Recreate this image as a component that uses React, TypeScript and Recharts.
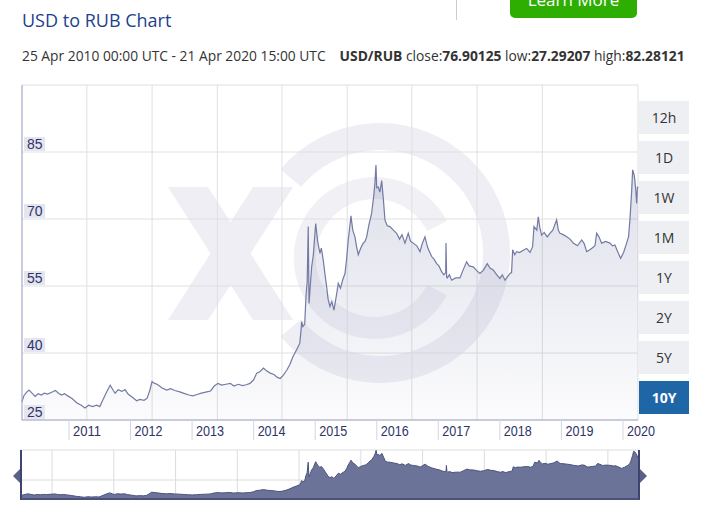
import React from "react";
import { AreaChart, Area, XAxis, YAxis, CartesianGrid } from "recharts";

// decimal years, 25 Apr 2010 .. 21 Apr 2020
const dates = [
  2010.237, 2010.27, 2010.31, 2010.35, 2010.4, 2010.45, 2010.5, 2010.55, 2010.6, 2010.65,
  2010.72, 2010.78, 2010.83, 2010.88, 2010.93, 2010.98, 2011.05, 2011.13, 2011.2, 2011.26,
  2011.32, 2011.38, 2011.45, 2011.5, 2011.55, 2011.62, 2011.67, 2011.72, 2011.75, 2011.8,
  2011.86, 2011.91, 2011.96, 2012.04, 2012.1, 2012.15, 2012.22, 2012.27, 2012.31, 2012.35,
  2012.39, 2012.43, 2012.47, 2012.52, 2012.59, 2012.65, 2012.72, 2012.8, 2012.88, 2012.95,
  2013.01, 2013.08, 2013.15, 2013.24, 2013.3, 2013.36, 2013.42, 2013.48, 2013.55, 2013.62,
  2013.68, 2013.75, 2013.82, 2013.88, 2013.94, 2014.0, 2014.05, 2014.1, 2014.16, 2014.21,
  2014.27, 2014.33, 2014.38, 2014.43, 2014.48, 2014.54, 2014.59, 2014.64, 2014.7, 2014.75,
  2014.77, 2014.78, 2014.8, 2014.83, 2014.85, 2014.87, 2014.887, 2014.9, 2014.92, 2014.943,
  2014.97, 2015.008, 2015.04, 2015.077, 2015.1, 2015.131, 2015.16, 2015.186, 2015.21, 2015.24,
  2015.27, 2015.305, 2015.34, 2015.375, 2015.41, 2015.45, 2015.484, 2015.51, 2015.537, 2015.56,
  2015.581, 2015.61, 2015.646, 2015.67, 2015.7, 2015.74, 2015.781, 2015.81, 2015.836, 2015.87,
  2015.917, 2015.95, 2015.97, 2015.987, 2016.0, 2016.024, 2016.05, 2016.08, 2016.11, 2016.133,
  2016.17, 2016.214, 2016.27, 2016.323, 2016.37, 2016.41, 2016.458, 2016.512, 2016.55, 2016.593,
  2016.65, 2016.702, 2016.74, 2016.783, 2016.83, 2016.892, 2016.93, 2016.973, 2017.01, 2017.054,
  2017.09, 2017.12, 2017.125, 2017.135, 2017.145, 2017.18, 2017.217, 2017.28, 2017.352, 2017.4,
  2017.46, 2017.5, 2017.568, 2017.62, 2017.676, 2017.73, 2017.795, 2017.84, 2017.892, 2017.95,
  2018.001, 2018.04, 2018.083, 2018.12, 2018.164, 2018.19, 2018.208, 2018.24, 2018.273, 2018.32,
  2018.38, 2018.435, 2018.49, 2018.532, 2018.554, 2018.6, 2018.624, 2018.65, 2018.679, 2018.72,
  2018.77, 2018.813, 2018.86, 2018.922, 2018.95, 2018.976, 2019.03, 2019.085, 2019.14, 2019.192,
  2019.26, 2019.329, 2019.37, 2019.41, 2019.45, 2019.5, 2019.545, 2019.572, 2019.61, 2019.653,
  2019.72, 2019.788, 2019.83, 2019.869, 2019.92, 2019.962, 2020.01, 2020.059, 2020.09, 2020.113,
  2020.14, 2020.157, 2020.18, 2020.194, 2020.21, 2020.222, 2020.235, 2020.244,
];

const rates = [
  29.1, 30.5, 31.2, 31.7, 31.0, 30.3, 30.9, 30.6, 31.0, 30.8,
  31.2, 31.6, 31.0, 30.6, 30.9, 30.4, 29.8, 28.8, 28.3, 27.7,
  28.3, 28.0, 28.3, 28.0, 29.5, 31.5, 32.8, 31.6, 31.0, 31.8,
  31.4, 31.8, 30.8, 30.0, 29.3, 29.6, 29.4, 29.9, 31.5, 33.6,
  33.2, 33.0, 32.6, 32.1, 31.7, 32.0, 31.6, 31.3, 30.9, 30.6,
  30.4, 30.7, 31.0, 31.3, 31.5, 32.6, 33.2, 32.8, 33.0, 33.2,
  32.6, 33.0, 32.7, 32.9, 33.2, 34.0, 35.5, 35.8, 36.6, 36.0,
  35.5, 35.2, 34.6, 34.3, 35.0, 36.2, 37.5, 39.2, 40.8, 42.2,
  45.0, 47.0, 45.9, 46.5, 52.6, 56.0, 68.3, 51.1, 55.0, 59.3,
  62.0, 69.0, 65.0, 62.3, 63.5, 60.8, 57.5, 54.8, 52.0, 50.4,
  51.5, 49.6, 52.5, 55.6, 54.5, 56.5, 57.8, 61.0, 65.3, 68.0,
  70.7, 67.5, 66.0, 64.0, 62.0, 63.5, 64.6, 65.0, 66.0, 68.5,
  71.3, 75.0, 78.0, 82.1, 77.0, 77.2, 76.0, 78.6, 74.0, 69.8,
  68.5, 68.3, 67.5, 66.8, 65.5, 66.5, 64.6, 66.8, 65.0, 64.6,
  64.0, 62.7, 64.5, 66.0, 63.5, 61.6, 61.0, 60.0, 59.5, 58.2,
  57.5, 58.0, 64.6, 57.0, 56.8, 57.5, 56.3, 56.8, 56.8, 58.5,
  60.4, 59.5, 59.3, 58.5, 57.8, 58.5, 60.0, 59.0, 58.6, 57.5,
  56.7, 57.5, 56.3, 57.0, 57.8, 58.0, 63.1, 62.0, 62.7, 62.5,
  63.0, 63.4, 62.5, 63.8, 68.3, 67.5, 70.5, 68.0, 66.4, 67.0,
  66.0, 66.8, 67.5, 69.8, 67.5, 66.8, 66.5, 66.0, 65.5, 64.6,
  64.0, 65.3, 64.5, 62.7, 63.0, 63.5, 64.0, 66.8, 66.0, 64.6,
  65.0, 64.6, 64.0, 64.2, 62.5, 61.2, 62.5, 64.6, 66.0, 69.8,
  76.0, 81.0, 80.0, 78.6, 76.0, 73.5, 77.2, 76.9,
];

const yearTicks = [2011, 2012, 2013, 2014, 2015, 2016, 2017, 2018, 2019, 2020];
const priceTicks = [25, 40, 55, 70, 85, 100];
const gridYears = [2011.29, 2012.35, 2013.41, 2014.46, 2015.52, 2016.57, 2017.63, 2018.69, 2019.74, 2020.244];
const navGridYears = [
  2010.74, 2011.24, 2011.74, 2012.24, 2012.74, 2013.24, 2013.74, 2014.24, 2014.74, 2015.24,
  2015.74, 2016.24, 2016.74, 2017.24, 2017.74, 2018.24, 2018.74, 2019.24, 2019.74,
];
const navPriceTicks = [36.1, 47.7, 59.3, 70.9, 82.5];
const ranges = ["12h", "1D", "1W", "1M", "1Y", "2Y", "5Y", "10Y"];

const START = 2010.237;
const END = 2020.244;

const data = dates.map((t, i) => ({ t, v: rates[i] }));

const navy = "#2f3468";
const axisFont = "'Liberation Sans', Arial, sans-serif";

function PriceTick({ x, y, payload }: any) {
  if (payload.value === 100) return null;
  return (
    <g>
      <rect x={x + 2} y={y - 15} width={21} height={14} fill="#e4e5f0" />
      <text x={x + 5} y={y - 3} fill={navy} fontSize={14} fontFamily={axisFont}>
        {payload.value}
      </text>
    </g>
  );
}

function YearTick({ x, y, payload }: any) {
  return (
    <text
      x={x + 4}
      y={y - 4}
      fill={navy}
      fontSize={14}
      fontFamily={axisFont}
      textLength={28}
      lengthAdjust="spacingAndGlyphs"
    >
      {payload.value}
    </text>
  );
}

function Watermark() {
  return (
    <svg width={702} height={515} style={{ position: "absolute", left: 0, top: 0 }}>
      <g fill="#eeeef4">
        <polygon points="168,187 208,187 293,320 253,320" />
        <polygon points="253,187 293,187 208,320 168,320" />
      </g>
      <path
        d="M 290.8 178.1 A 116.5 116.5 0 1 1 290.8 327.9"
        fill="none"
        stroke="#eeeef4"
        strokeWidth={27}
      />
      <path
        d="M 437 226 A 70 70 0 1 0 437 290"
        fill="none"
        stroke="#f0f0f5"
        strokeWidth={22}
      />
    </svg>
  );
}

export default function App() {
  return (
    <div
      style={{
        position: "absolute",
        left: 0,
        top: 0,
        width: 702,
        height: 515,
        overflow: "hidden",
        background: "#fff",
        fontFamily: "'Open Sans', sans-serif",
      }}
    >
      <Watermark />

      <div style={{ position: "absolute", left: 22, top: 8, fontSize: 18, color: "#1e3f8f" }}>
        USD to RUB Chart
      </div>
      <div style={{ position: "absolute", left: 456, top: 0, width: 1, height: 20, background: "#cccccc" }} />
      <div
        style={{
          position: "absolute",
          left: 510,
          top: -18,
          width: 127,
          height: 36,
          background: "#2eae00",
          borderRadius: 5,
          color: "#fff",
          fontSize: 17,
          lineHeight: "36px",
          textAlign: "center",
        }}
      >
        Learn More
      </div>
      <div
        style={{
          position: "absolute",
          left: 22,
          top: 46,
          fontSize: 13.8,
          color: "#333",
          whiteSpace: "nowrap",
        }}
      >
        25 Apr 2010 00:00 UTC - 21 Apr 2020 15:00 UTC
        <b style={{ marginLeft: 14 }}>USD/RUB</b> close:<b>76.90125</b> low:<b>27.29207</b> high:
        <b>82.28121</b>
      </div>

      <div style={{ position: "absolute", left: 0, top: 80 }}>
        <AreaChart width={702} height={365} data={data} margin={{ top: 5, right: 64, bottom: 0, left: 21 }}>
          <defs>
            <linearGradient id="mainFill" x1="0" y1="0" x2="0" y2="1">
              <stop offset="0%" stopColor="#6b73a3" stopOpacity={0.38} />
              <stop offset="100%" stopColor="#6b73a3" stopOpacity={0.04} />
            </linearGradient>
          </defs>
          <XAxis
            xAxisId="yr"
            type="number"
            dataKey="t"
            domain={[START, END]}
            ticks={yearTicks}
            height={25}
            tickSize={20}
            tickMargin={0}
            tickLine={{ stroke: "#d3d6e6" }}
            axisLine={{ stroke: "#a3a7cc" }}
            tick={<YearTick />}
            interval={0}
          />
          <XAxis
            xAxisId="grid"
            type="number"
            dataKey="t"
            domain={[START, END]}
            ticks={gridYears}
            height={0}
            hide
          />
          <CartesianGrid xAxisId="grid" stroke="#e0e0e0" />
          <YAxis
            type="number"
            domain={[25, 100]}
            ticks={priceTicks}
            width={1}
            tickSize={0}
            tickMargin={0}
            axisLine={{ stroke: "#a3a7cc" }}
            tick={<PriceTick />}
            interval={0}
          />
          <Area
            xAxisId="yr"
            type="linear"
            dataKey="v"
            stroke="#737aa3"
            strokeWidth={1.2}
            fill="url(#mainFill)"
            dot={false}
            activeDot={false}
            isAnimationActive={false}
          />
        </AreaChart>
      </div>

      {ranges.map((r, i) => (
        <div
          key={r}
          style={{
            position: "absolute",
            left: 639,
            top: 101 + i * 40,
            width: 50,
            height: 33,
            lineHeight: "33px",
            textAlign: "center",
            fontSize: 14,
            background: r === "10Y" ? "#1f66a6" : "#eeeff3",
            color: r === "10Y" ? "#fff" : "#333",
            fontWeight: r === "10Y" ? 700 : 400,
          }}
        >
          {r}
        </div>
      ))}

      <div style={{ position: "absolute", left: 0, top: 445 }}>
        <AreaChart width={702} height={55} data={data} margin={{ top: 5, right: 63, bottom: 1, left: 21 }}>
          <XAxis type="number" dataKey="t" domain={[START, END]} ticks={navGridYears} hide />
          <YAxis type="number" domain={[25.7, 82.5]} ticks={navPriceTicks} hide />
          <CartesianGrid stroke="#dcdcdc" />
          <Area
            type="linear"
            dataKey="v"
            stroke="#4b537d"
            strokeWidth={1}
            fill="#6b7399"
            fillOpacity={1}
            dot={false}
            activeDot={false}
            isAnimationActive={false}
          />
        </AreaChart>
      </div>
      <div style={{ position: "absolute", left: 20, top: 450, width: 2, height: 50, background: "#3d4470" }} />
      <div style={{ position: "absolute", left: 638, top: 450, width: 2, height: 50, background: "#3d4470" }} />
      <div style={{ position: "absolute", left: 21, top: 498, width: 618, height: 2, background: "#4b537d" }} />
      <svg width={702} height={515} style={{ position: "absolute", left: 0, top: 0, pointerEvents: "none" }}>
        <polygon points="13,476 20,469 20,483" fill="#5a6088" />
        <polygon points="640,469 640,483 647,476" fill="#5a6088" />
      </svg>
    </div>
  );
}
